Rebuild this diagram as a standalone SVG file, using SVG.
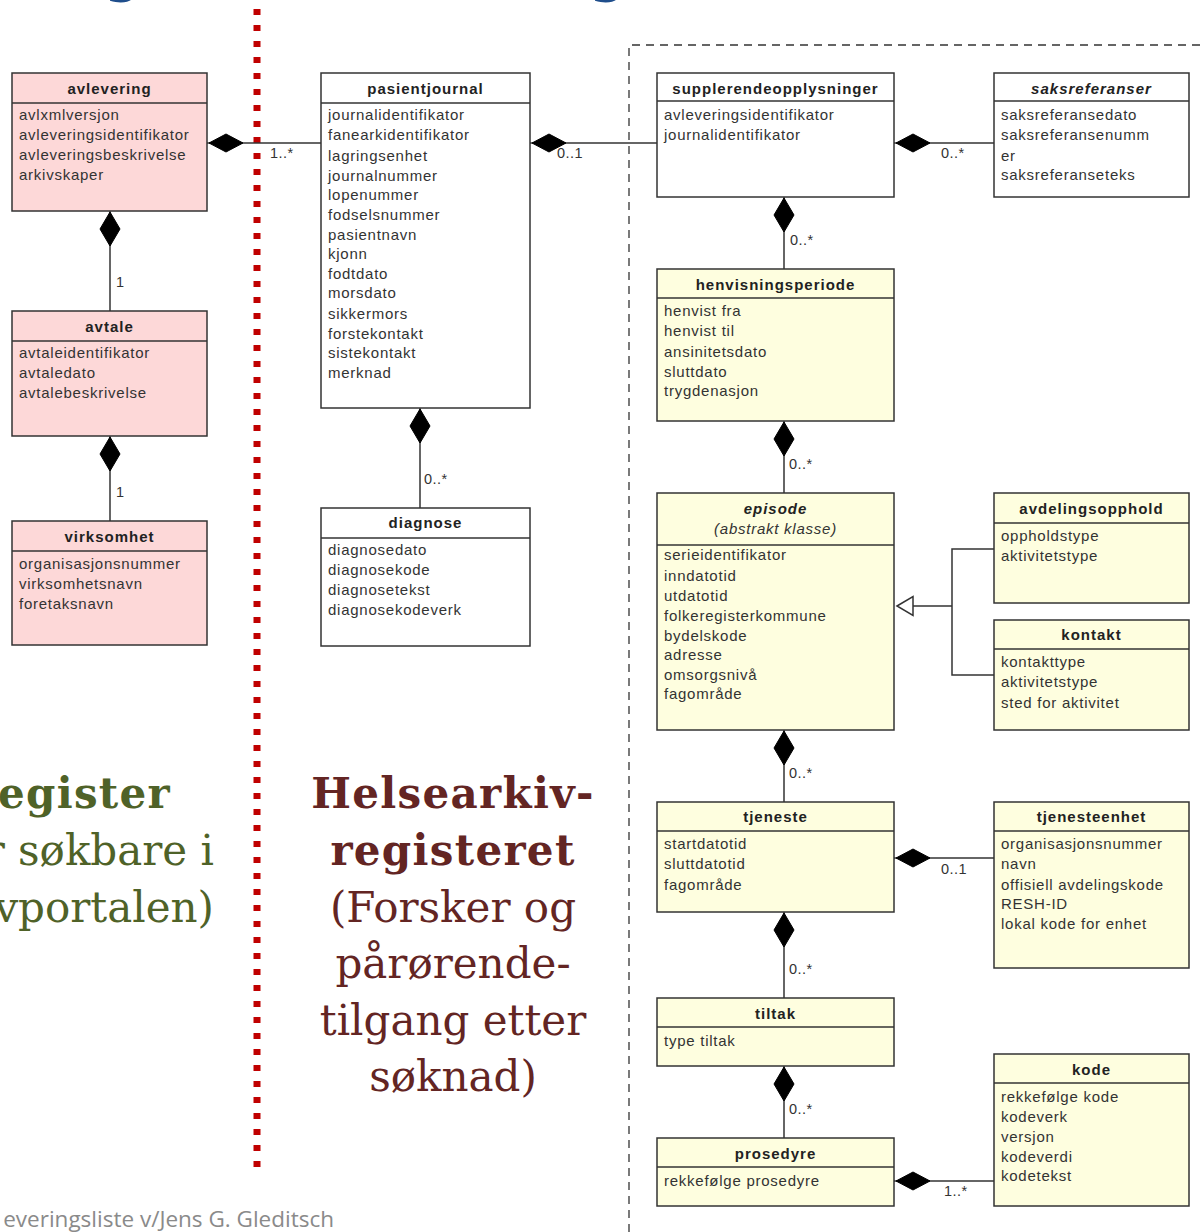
<svg xmlns="http://www.w3.org/2000/svg" width="1202" height="1232" viewBox="0 0 1202 1232">
<style>
.box{stroke:#333;stroke-width:1.5}
.pink{fill:#fdd8d8}
.yel{fill:#fefedf}
.wht{fill:#ffffff}
.div{stroke:#333;stroke-width:1.5}
.t{font-family:"Liberation Sans",Arial,sans-serif;font-size:15px;font-weight:bold;fill:#222;text-anchor:middle;letter-spacing:1px}
.ti{font-style:italic}
.a{font-family:"Liberation Sans",Arial,sans-serif;font-size:15px;fill:#333;letter-spacing:0.75px}
.ai{font-family:"Liberation Sans",Arial,sans-serif;font-size:15px;font-style:italic;fill:#333;text-anchor:middle;letter-spacing:0.75px}
.ln{stroke:#333;stroke-width:1.5;fill:none}
.dm{fill:#000;stroke:#000;stroke-width:1}
.lbl{font-family:"Liberation Sans",Arial,sans-serif;font-size:14.5px;fill:#333;letter-spacing:0.5px}
.big{font-family:"DejaVu Serif","Liberation Serif",serif;font-size:42px}
.bb{font-weight:bold;letter-spacing:1.3px}
.grn{fill:#4f6228}
.red{fill:#632523}
</style>
<rect width="1202" height="1232" fill="#ffffff"/>
<g id="title-fragments" fill="#1f4e8c" font-family="DejaVu Serif, serif" font-weight="bold" font-size="50" text-anchor="middle">
<text x="123" y="-9">g</text>
<text x="608" y="-9">g</text>
</g>
<g id="divider">
<line x1="257" y1="9" x2="257" y2="1167" stroke="#c00000" stroke-width="7" stroke-dasharray="6 10"/>
<path d="M629,1232 V45 H1202" fill="none" stroke="#333" stroke-width="1.3" stroke-dasharray="8 6"/>
</g>
<g id="connectors">
<line class="ln" x1="207" y1="143" x2="321" y2="143"/>
<polygon class="dm" points="209,143 226,134 243,143 226,152"/>
<text class="lbl" x="270" y="158">1..*</text>
<line class="ln" x1="110" y1="211" x2="110" y2="311"/>
<polygon class="dm" points="110,212 100,229 110,246 120,229"/>
<text class="lbl" x="116" y="287">1</text>
<line class="ln" x1="110" y1="436" x2="110" y2="521"/>
<polygon class="dm" points="110,437 100,454 110,471 120,454"/>
<text class="lbl" x="116" y="497">1</text>
<line class="ln" x1="530" y1="143" x2="657" y2="143"/>
<polygon class="dm" points="532,143 549,134 566,143 549,152"/>
<text class="lbl" x="557" y="158">0..1</text>
<line class="ln" x1="420" y1="408" x2="420" y2="508"/>
<polygon class="dm" points="420,409 410,426 420,443 430,426"/>
<text class="lbl" x="424" y="484">0..*</text>
<line class="ln" x1="894" y1="143" x2="994" y2="143"/>
<polygon class="dm" points="896,143 913,134 930,143 913,152"/>
<text class="lbl" x="941" y="158">0..*</text>
<line class="ln" x1="784" y1="197" x2="784" y2="269"/>
<polygon class="dm" points="784,198 774,215 784,232 794,215"/>
<text class="lbl" x="790" y="245">0..*</text>
<line class="ln" x1="784" y1="421" x2="784" y2="493"/>
<polygon class="dm" points="784,422 774,439 784,456 794,439"/>
<text class="lbl" x="789" y="469">0..*</text>
<path class="ln" d="M994,549 H952 V675 H994 M952,606 H913"/>
<polygon points="897,606 913,596.5 913,615.5" fill="#fff" stroke="#333" stroke-width="1.5"/>
<line class="ln" x1="784" y1="730" x2="784" y2="802"/>
<polygon class="dm" points="784,731 774,748 784,765 794,748"/>
<text class="lbl" x="789" y="778">0..*</text>
<line class="ln" x1="894" y1="858" x2="994" y2="858"/>
<polygon class="dm" points="896,858 913,849 930,858 913,867"/>
<text class="lbl" x="941" y="874">0..1</text>
<line class="ln" x1="784" y1="912" x2="784" y2="998"/>
<polygon class="dm" points="784,913 774,930 784,947 794,930"/>
<text class="lbl" x="789" y="974">0..*</text>
<line class="ln" x1="784" y1="1066" x2="784" y2="1138"/>
<polygon class="dm" points="784,1067 774,1084 784,1101 794,1084"/>
<text class="lbl" x="789" y="1114">0..*</text>
<line class="ln" x1="894" y1="1181" x2="994" y2="1181"/>
<polygon class="dm" points="896,1181 913,1172 930,1181 913,1190"/>
<text class="lbl" x="944" y="1196">1..*</text>
</g>
<g id="avlevering">
<rect class="box pink" x="12" y="73" width="195" height="138"/>
<line class="div" x1="12" y1="103" x2="207" y2="103"/>
<text class="t" x="109.5" y="94">avlevering</text>
<text class="a" x="19" y="120">avlxmlversjon</text>
<text class="a" x="19" y="140">avleveringsidentifikator</text>
<text class="a" x="19" y="160">avleveringsbeskrivelse</text>
<text class="a" x="19" y="180">arkivskaper</text>
</g>
<g id="avtale">
<rect class="box pink" x="12" y="311" width="195" height="125"/>
<line class="div" x1="12" y1="341" x2="207" y2="341"/>
<text class="t" x="109.5" y="332">avtale</text>
<text class="a" x="19" y="358">avtaleidentifikator</text>
<text class="a" x="19" y="378">avtaledato</text>
<text class="a" x="19" y="398">avtalebeskrivelse</text>
</g>
<g id="virksomhet">
<rect class="box pink" x="12" y="521" width="195" height="124"/>
<line class="div" x1="12" y1="551" x2="207" y2="551"/>
<text class="t" x="109.5" y="542">virksomhet</text>
<text class="a" x="19" y="569">organisasjonsnummer</text>
<text class="a" x="19" y="589">virksomhetsnavn</text>
<text class="a" x="19" y="609">foretaksnavn</text>
</g>
<g id="pasientjournal">
<rect class="box wht" x="321" y="73" width="209" height="335"/>
<line class="div" x1="321" y1="103" x2="530" y2="103"/>
<text class="t" x="425.5" y="94">pasientjournal</text>
<text class="a" x="328" y="120">journalidentifikator</text>
<text class="a" x="328" y="140">fanearkidentifikator</text>
<text class="a" x="328" y="161">lagringsenhet</text>
<text class="a" x="328" y="181">journalnummer</text>
<text class="a" x="328" y="200">lopenummer</text>
<text class="a" x="328" y="220">fodselsnummer</text>
<text class="a" x="328" y="240">pasientnavn</text>
<text class="a" x="328" y="259">kjonn</text>
<text class="a" x="328" y="279">fodtdato</text>
<text class="a" x="328" y="298">morsdato</text>
<text class="a" x="328" y="319">sikkermors</text>
<text class="a" x="328" y="339">forstekontakt</text>
<text class="a" x="328" y="358">sistekontakt</text>
<text class="a" x="328" y="378">merknad</text>
</g>
<g id="diagnose">
<rect class="box wht" x="321" y="508" width="209" height="138"/>
<line class="div" x1="321" y1="538" x2="530" y2="538"/>
<text class="t" x="425.5" y="528">diagnose</text>
<text class="a" x="328" y="555">diagnosedato</text>
<text class="a" x="328" y="575">diagnosekode</text>
<text class="a" x="328" y="595">diagnosetekst</text>
<text class="a" x="328" y="615">diagnosekodeverk</text>
</g>
<g id="supplerendeopplysninger">
<rect class="box wht" x="657" y="73" width="237" height="124"/>
<line class="div" x1="657" y1="101" x2="894" y2="101"/>
<text class="t" x="775.5" y="94">supplerendeopplysninger</text>
<text class="a" x="664" y="120">avleveringsidentifikator</text>
<text class="a" x="664" y="140">journalidentifikator</text>
</g>
<g id="saksreferanser">
<rect class="box wht" x="994" y="73" width="195" height="124"/>
<line class="div" x1="994" y1="101" x2="1189" y2="101"/>
<text class="t ti" x="1091.5" y="94">saksreferanser</text>
<text class="a" x="1001" y="120">saksreferansedato</text>
<text class="a" x="1001" y="140">saksreferansenumm</text>
<text class="a" x="1001" y="161">er</text>
<text class="a" x="1001" y="180">saksreferanseteks</text>
</g>
<g id="henvisningsperiode">
<rect class="box yel" x="657" y="269" width="237" height="152"/>
<line class="div" x1="657" y1="298" x2="894" y2="298"/>
<text class="t" x="775.5" y="290">henvisningsperiode</text>
<text class="a" x="664" y="316">henvist fra</text>
<text class="a" x="664" y="336">henvist til</text>
<text class="a" x="664" y="357">ansinitetsdato</text>
<text class="a" x="664" y="377">sluttdato</text>
<text class="a" x="664" y="396">trygdenasjon</text>
</g>
<g id="episode">
<rect class="box yel" x="657" y="493" width="237" height="237"/>
<line class="div" x1="657" y1="545" x2="894" y2="545"/>
<text class="t ti" x="775.5" y="514">episode</text>
<text class="ai" x="775.5" y="534">(abstrakt klasse)</text>
<text class="a" x="664" y="560">serieidentifikator</text>
<text class="a" x="664" y="581">inndatotid</text>
<text class="a" x="664" y="601">utdatotid</text>
<text class="a" x="664" y="621">folkeregisterkommune</text>
<text class="a" x="664" y="641">bydelskode</text>
<text class="a" x="664" y="660">adresse</text>
<text class="a" x="664" y="680">omsorgsnivå</text>
<text class="a" x="664" y="699">fagområde</text>
</g>
<g id="avdelingsopphold">
<rect class="box yel" x="994" y="493" width="195" height="110"/>
<line class="div" x1="994" y1="523" x2="1189" y2="523"/>
<text class="t" x="1091.5" y="514">avdelingsopphold</text>
<text class="a" x="1001" y="541">oppholdstype</text>
<text class="a" x="1001" y="561">aktivitetstype</text>
</g>
<g id="kontakt">
<rect class="box yel" x="994" y="620" width="195" height="110"/>
<line class="div" x1="994" y1="649" x2="1189" y2="649"/>
<text class="t" x="1091.5" y="640">kontakt</text>
<text class="a" x="1001" y="667">kontakttype</text>
<text class="a" x="1001" y="687">aktivitetstype</text>
<text class="a" x="1001" y="708">sted for aktivitet</text>
</g>
<g id="tjeneste">
<rect class="box yel" x="657" y="802" width="237" height="110"/>
<line class="div" x1="657" y1="831" x2="894" y2="831"/>
<text class="t" x="775.5" y="822">tjeneste</text>
<text class="a" x="664" y="849">startdatotid</text>
<text class="a" x="664" y="869">sluttdatotid</text>
<text class="a" x="664" y="890">fagområde</text>
</g>
<g id="tjenesteenhet">
<rect class="box yel" x="994" y="802" width="195" height="166"/>
<line class="div" x1="994" y1="831" x2="1189" y2="831"/>
<text class="t" x="1091.5" y="822">tjenesteenhet</text>
<text class="a" x="1001" y="849">organisasjonsnummer</text>
<text class="a" x="1001" y="869">navn</text>
<text class="a" x="1001" y="890">offisiell avdelingskode</text>
<text class="a" x="1001" y="909">RESH-ID</text>
<text class="a" x="1001" y="929">lokal kode for enhet</text>
</g>
<g id="tiltak">
<rect class="box yel" x="657" y="998" width="237" height="68"/>
<line class="div" x1="657" y1="1027" x2="894" y2="1027"/>
<text class="t" x="775.5" y="1019">tiltak</text>
<text class="a" x="664" y="1046">type tiltak</text>
</g>
<g id="kode">
<rect class="box yel" x="994" y="1054" width="195" height="152"/>
<line class="div" x1="994" y1="1083" x2="1189" y2="1083"/>
<text class="t" x="1091.5" y="1075">kode</text>
<text class="a" x="1001" y="1102">rekkefølge kode</text>
<text class="a" x="1001" y="1122">kodeverk</text>
<text class="a" x="1001" y="1142">versjon</text>
<text class="a" x="1001" y="1162">kodeverdi</text>
<text class="a" x="1001" y="1181">kodetekst</text>
</g>
<g id="prosedyre">
<rect class="box yel" x="657" y="1138" width="237" height="68"/>
<line class="div" x1="657" y1="1167" x2="894" y2="1167"/>
<text class="t" x="775.5" y="1159">prosedyre</text>
<text class="a" x="664" y="1186">rekkefølge prosedyre</text>
</g>
<g id="left-caption" class="big grn" text-anchor="end">
<text class="bb" x="171" y="808">egister</text>
<text x="214" y="865">r søkbare i</text>
<text x="214" y="922">vportalen)</text>
</g>
<g id="right-caption" class="big red" text-anchor="middle">
<text class="bb" x="453" y="808">Helsearkiv-</text>
<text class="bb" x="453" y="865">registeret</text>
<text x="453" y="922">(Forsker og</text>
<text x="453" y="978">pårørende-</text>
<text x="453" y="1035">tilgang etter</text>
<text x="453" y="1091">søknad)</text>
</g>
<text id="footer" x="334" y="1227" text-anchor="end" font-family="Open Sans, Liberation Sans, sans-serif" font-size="22.5" fill="#8a8a8a">everingsliste v/Jens G. Gleditsch</text>
</svg>
